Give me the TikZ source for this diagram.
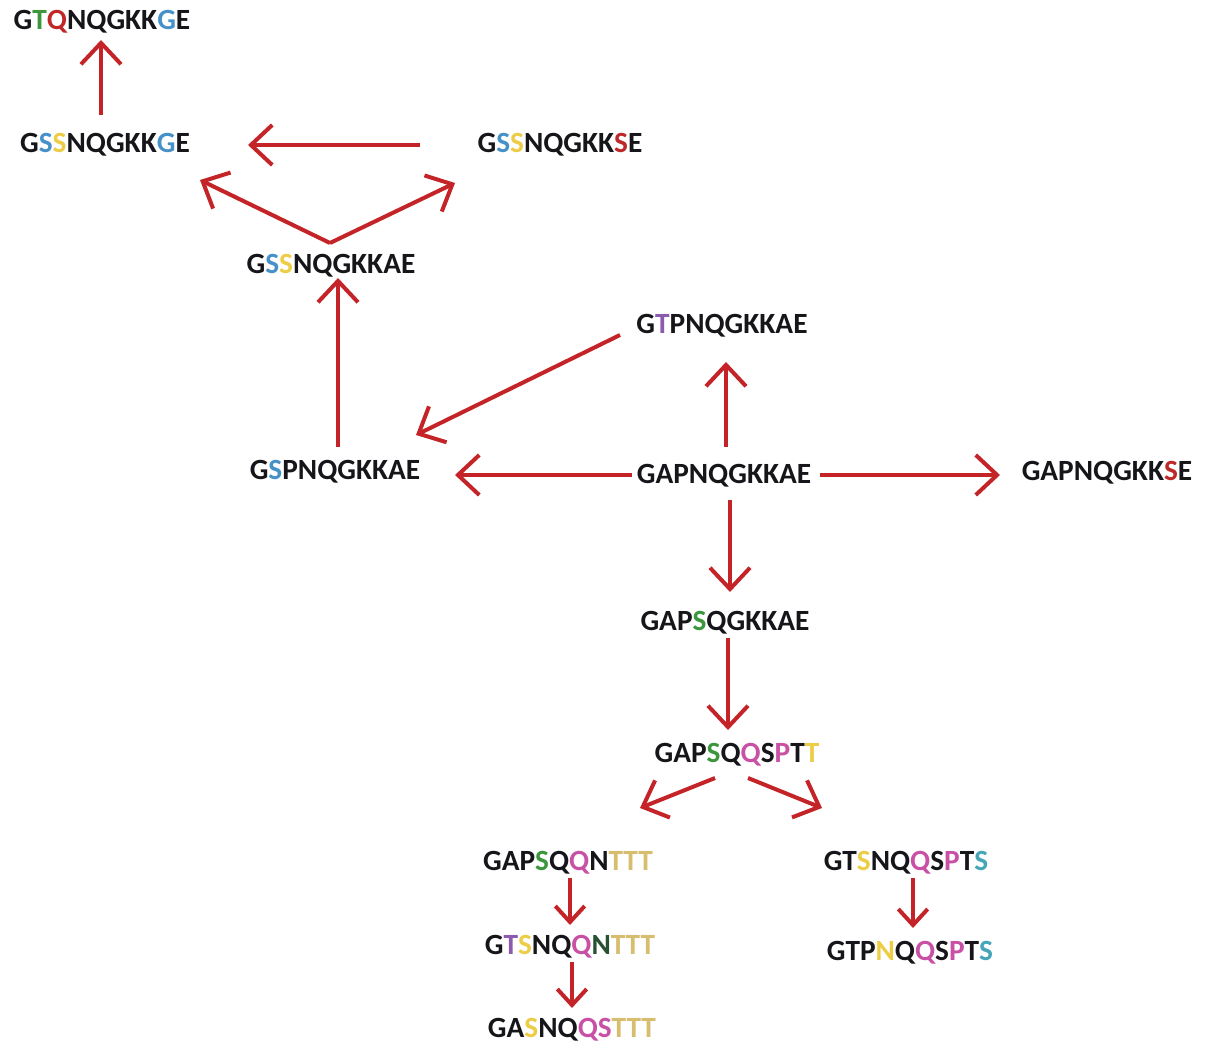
\documentclass[tikz,border=0pt]{standalone}
\usepackage{fontspec}
\setmainfont{Carlito}
\usetikzlibrary{arrows.meta,calc}
\definecolor{arrred}{RGB}{196,36,40}
\definecolor{txt}{RGB}{22,22,26}
\definecolor{cb}{RGB}{70,145,200}
\definecolor{cy}{RGB}{238,205,70}
\definecolor{cr}{RGB}{190,40,40}
\definecolor{cg}{RGB}{60,150,60}
\definecolor{cp}{RGB}{140,90,175}
\definecolor{cm}{RGB}{200,80,165}
\definecolor{ct}{RGB}{215,190,110}
\definecolor{cs}{RGB}{70,165,185}
\definecolor{cdg}{RGB}{40,80,50}
\newcommand{\cl}[2]{\textcolor{#1}{#2}}
\begin{document}
\begin{tikzpicture}[x=0.75pt,y=-0.75pt,
  seq/.style={inner sep=0pt,font=\fontsize{22}{26}\selectfont\bfseries,text=txt},
  arr/.style={draw=arrred,line width=3pt,-{Straight Barb[length=16pt,width=30pt,line width=3pt]}},
  sarr/.style={draw=arrred,line width=3pt,-{Straight Barb[length=12pt,width=22pt,line width=3pt]}}]
\useasboundingbox[fill=white] (0,0) rectangle (1209,1044);
\node[seq] (gtq) at (102,22) {G\cl{cg}{T}\cl{cr}{Q}NQGKK\cl{cb}{G}E};
\node[seq] (gsskge) at (105,145) {G\cl{cb}{S}\cl{cy}{S}NQGKK\cl{cb}{G}E};
\node[seq] (gsskse) at (560,145) {G\cl{cb}{S}\cl{cy}{S}NQGKK\cl{cr}{S}E};
\node[seq] (gsskae) at (331,266) {G\cl{cb}{S}\cl{cy}{S}NQGKKAE};
\node[seq] (gtp) at (722,326) {G\cl{cp}{T}PNQGKKAE};
\node[seq] (gsp) at (335,472) {G\cl{cb}{S}PNQGKKAE};
\node[seq] (gap) at (724,476) {GAPNQGKKAE};
\node[seq] (gapks) at (1107,473) {GAPNQGKK\cl{cr}{S}E};
\node[seq] (gapsq) at (725,623) {GAP\cl{cg}{S}QGKKAE};
\node[seq] (qqs) at (737,755) {GAP\cl{cg}{S}Q\cl{cm}{Q}S\cl{cm}{P}T\cl{cy}{T}};
\node[seq] (gapqqn) at (568,863) {GAP\cl{cg}{S}Q\cl{cm}{Q}N\cl{ct}{TTT}};
\node[seq] (gtsqqn) at (570,947) {G\cl{cp}{T}\cl{cy}{S}NQ\cl{cm}{Q}\cl{cdg}{N}\cl{ct}{TTT}};
\node[seq] (gasn) at (572,1030) {GA\cl{cy}{S}NQ\cl{cm}{QS}\cl{ct}{TTT}};
\node[seq] (gtsqqs) at (906,863) {GT\cl{cy}{S}NQ\cl{cm}{Q}S\cl{cm}{P}T\cl{cs}{S}};
\node[seq] (gtpqqs) at (910,953) {GTP\cl{cy}{N}Q\cl{cm}{Q}S\cl{cm}{P}T\cl{cs}{S}};
% arrows
\draw[arr] ($(gsskge)+(-4,-30)$) -- ($(gtq)+(-1,18)$);
\draw[arr] ($(gsskse)+(-140,0)$) -- ($(gsskge)+(143,0)$);
\coordinate (split) at ($(gsskae)+(-1,-23)$);
\draw[arr] (split) -- ($(gsskge)+(95,35)$);
\draw[arr] (split) -- ($(gsskse)+(-105,38)$);
\draw[arr] ($(gsp)+(3,-25)$) -- ($(gsskae)+(7,12)$);
\draw[arr] ($(gtp)+(-102,9)$) -- ($(gsp)+(81,-37)$);
\draw[arr] ($(gap)+(2,-29)$) -- ($(gtp)+(4,36)$);
\draw[arr] ($(gap)+(-92,-1)$) -- ($(gsp)+(120,3)$);
\draw[arr] ($(gap)+(96,-1)$) -- ($(gapks)+(-107,2)$);
\draw[arr] ($(gap)+(6,24)$) -- ($(gapsq)+(5,-31)$);
\draw[arr] ($(gapsq)+(3,15)$) -- ($(qqs)+(-9,-25)$);
\draw[arr] ($(qqs)+(-22,23)$) -- ($(gapqqn)+(72,-55)$);
\draw[arr] ($(qqs)+(11,23)$) -- ($(gtsqqs)+(-84,-55)$);
\draw[sarr] ($(gapqqn)+(2,15)$) -- ($(gtsqqn)+(0,-22)$);
\draw[sarr] ($(gtsqqn)+(2,15)$) -- ($(gasn)+(0,-22)$);
\draw[sarr] ($(gtsqqs)+(7,15)$) -- ($(gtpqqs)+(3,-25)$);
\end{tikzpicture}
\end{document}
